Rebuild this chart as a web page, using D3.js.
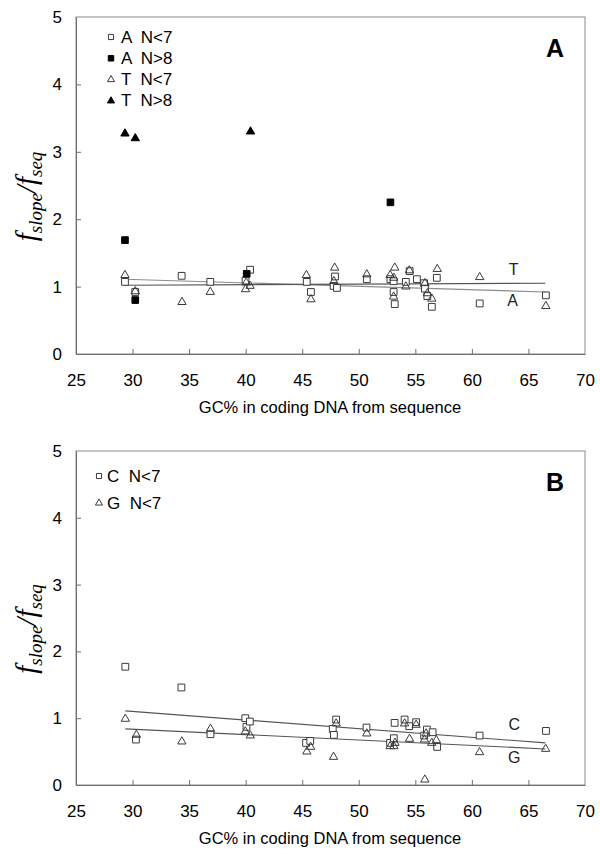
<!DOCTYPE html>
<html><head><meta charset="utf-8">
<script src="https://cdn.jsdelivr.net/npm/d3@7"></script>
<style>body{margin:0;background:#fff}svg{display:block}</style>
</head><body>
<svg id="chart" width="600" height="857"></svg>
<script>
// ---------- data ----------
const xTicks = [25, 30, 35, 40, 45, 50, 55, 60, 65, 70];
const yTicks = [0, 1, 2, 3, 4, 5];
const xTitle = "GC% in coding DNA from sequence";

// Panel A
const aLow = [[29.33,1.07],[30.24,0.92],[34.34,1.16],[36.87,1.07],[39.99,1.09],[40.39,1.25],[45.4,1.07],[45.77,0.92],[47.77,1.01],[47.9,1.15],[48.07,0.98],[50.71,1.11],[52.8,1.11],[53.08,0.92],[53.18,0.74],[53.08,1.08],[54.16,1.07],[54.5,1.23],[55.14,1.11],[55.78,1.05],[55.85,0.97],[56.06,0.86],[56.46,0.70],[56.9,1.13],[60.69,0.75],[66.54,0.87]];
const aHigh = [[29.33,1.69],[30.24,0.80],[40.09,1.19],[52.8,2.25]];
const tLow = [[29.33,1.17],[30.24,0.93],[34.37,0.77],[36.87,0.92],[39.99,0.96],[40.05,1.06],[40.39,1.01],[45.37,1.17],[45.77,0.81],[47.87,1.28],[47.8,1.08],[50.71,1.18],[52.77,1.17],[53.18,1.28],[53.1,1.13],[53.08,0.85],[54.16,1.0],[54.47,1.24],[55.85,1.05],[56.06,0.90],[56.46,0.82],[56.94,1.26],[60.69,1.14],[66.54,0.71]];
const tHigh = [[29.33,3.27],[30.24,3.20],[40.43,3.30]];
const trendA = [[29.3,1.11],[66.5,0.92]];
const trendT = [[29.3,1.02],[66.5,1.05]];

// Panel B
const cLow = [[29.36,1.77],[30.3,0.68],[34.32,1.46],[36.89,0.76],[39.97,1.00],[40.07,0.87],[40.37,0.95],[45.34,0.63],[45.71,0.66],[47.7,0.84],[48.0,0.98],[47.8,0.75],[50.68,0.86],[52.77,0.63],[53.1,0.70],[53.17,0.93],[54.05,0.98],[54.46,0.88],[55.07,0.94],[55.78,0.74],[56.02,0.83],[56.53,0.79],[56.93,0.57],[60.68,0.74],[66.55,0.81]];
const gLow = [[29.36,0.99],[30.34,0.75],[34.36,0.65],[36.89,0.84],[39.97,0.80],[40.41,0.74],[45.41,0.50],[45.74,0.57],[47.77,0.42],[48.0,0.92],[50.71,0.77],[52.77,0.58],[53.1,0.58],[53.2,0.63],[54.05,0.92],[54.49,0.69],[55.07,0.90],[55.81,0.68],[55.95,0.77],[55.84,0.08],[56.45,0.63],[56.86,0.67],[60.68,0.49],[66.52,0.54]];
const trendC = [[29.36,1.11],[66.5,0.63]];
const trendG = [[29.36,0.84],[66.5,0.54]];

const legendA = ["A  N<7", "A  N>8", "T  N<7", "T  N>8"];
const legendB = ["C  N<7", "G  N<7"];

// ---------- drawing ----------
const svg = d3.select("#chart");
const SANS = "'Liberation Sans', Arial, sans-serif";
const SERIF = "'Liberation Serif', 'Times New Roman', serif";

const sym = {
  sqOpen: {type: d3.symbolSquare, size: 46, fill: "#fff", stroke: "#3a3a3a"},
  sqFill: {type: d3.symbolSquare, size: 44, fill: "#000", stroke: "#000"},
  trOpen: {type: d3.symbolTriangle, size: 30, fill: "none", stroke: "#3a3a3a"},
  trFill: {type: d3.symbolTriangle, size: 30, fill: "#000", stroke: "#000"}
};
const legSym = {
  sqOpen: {type: d3.symbolSquare, size: 26, fill: "#fff", stroke: "#3a3a3a"},
  sqFill: {type: d3.symbolSquare, size: 30, fill: "#000", stroke: "#000"},
  trOpen: {type: d3.symbolTriangle, size: 22, fill: "none", stroke: "#3a3a3a"},
  trFill: {type: d3.symbolTriangle, size: 22, fill: "#000", stroke: "#000"}
};

function drawPanel(p) {
  const x = d3.scaleLinear().domain([25, 70]).range([p.left, p.right]);
  const y = d3.scaleLinear().domain([0, 5]).range([p.bottom, p.top]);
  const g = svg.append("g");

  // frame
  g.append("rect").attr("x", p.left).attr("y", p.top)
    .attr("width", p.right - p.left).attr("height", p.bottom - p.top)
    .attr("fill", "none").attr("stroke", "#8a8a8a").attr("stroke-width", 1);

  // axes
  const fmt = d3.format("d");
  const xa = g.append("g").attr("transform", `translate(0,${p.bottom})`)
    .call(d3.axisBottom(x).tickValues(xTicks).tickFormat(fmt).tickSizeInner(-5).tickSizeOuter(0).tickPadding(14));
  const ya = g.append("g").attr("transform", `translate(${p.left},0)`)
    .call(d3.axisLeft(y).tickValues(yTicks).tickFormat(fmt).tickSizeInner(-5).tickSizeOuter(0).tickPadding(14));
  [xa, ya].forEach(a => {
    a.select(".domain").attr("stroke", "#6e6e6e");
    a.selectAll(".tick line").attr("stroke", "#6e6e6e");
    a.selectAll("text").attr("font-family", SANS).attr("font-size", 17).attr("fill", "#000");
  });
  xa.selectAll(".tick").filter(d => d === 25 || d === 70).select("line").remove();
  ya.selectAll(".tick").filter(d => d === 0 || d === 5).select("line").remove();
  xa.selectAll("text").attr("dy", "0.71em").attr("y", 20);

  // trend lines
  const line = d3.line().x(d => x(d[0])).y(d => y(d[1]));
  p.trends.forEach(t => {
    g.append("path").datum(t.data).attr("d", line)
      .attr("fill", "none").attr("stroke", t.color).attr("stroke-width", 1.1);
    g.append("text").attr("x", x(t.label[0])).attr("y", y(t.label[1]))
      .attr("text-anchor", "middle").attr("dominant-baseline", "middle")
      .attr("font-family", SANS).attr("font-size", 16).attr("fill", "#222").text(t.text);
  });

  // points
  p.series.forEach(s => {
    const st = sym[s.sym];
    g.append("g").selectAll("path").data(s.data).join("path")
      .attr("transform", d => `translate(${x(d[0])},${y(d[1])})`)
      .attr("d", d3.symbol().type(st.type).size(st.size))
      .attr("fill", st.fill).attr("stroke", st.stroke).attr("stroke-width", 1);
  });

  // legend
  p.legend.forEach((lab, i) => {
    const st = legSym[p.series[i].sym];
    const yy = p.legY + i * p.legStep;
    g.append("path").attr("transform", `translate(${p.legX},${yy})`)
      .attr("d", d3.symbol().type(st.type).size(st.size))
      .attr("fill", st.fill).attr("stroke", st.stroke).attr("stroke-width", 1);
    g.append("text").attr("x", p.legX + p.legGap).attr("y", yy)
      .attr("dominant-baseline", "central")
      .attr("font-family", SANS).attr("font-size", 17).attr("fill", "#000")
      .attr("xml:space", "preserve").style("white-space", "pre").text(lab);
  });

  // panel letter
  g.append("text").attr("x", p.right - 30).attr("y", p.top + 40)
    .attr("text-anchor", "middle").attr("font-family", SANS)
    .attr("font-size", 25).attr("font-weight", "bold").text(p.letter);

  // x title
  g.append("text").attr("x", 330).attr("y", p.bottom + 59)
    .attr("text-anchor", "middle").attr("font-family", SANS)
    .attr("font-size", 16.5).attr("fill", "#000").text(xTitle);

  // y title
  const yc = (p.top + p.bottom) / 2 + 11;
  const yt = g.append("text").attr("transform", `translate(36,${yc}) rotate(-90)`)
    .attr("text-anchor", "middle").attr("font-family", SERIF)
    .attr("font-style", "italic").attr("fill", "#000");
  yt.append("tspan").attr("font-size", 29).text("f");
  yt.append("tspan").attr("font-size", 19).attr("dy", 6).text("slope");
  yt.append("tspan").attr("font-size", 29).attr("dy", -6).text("/");
  yt.append("tspan").attr("font-size", 29).text("f");
  yt.append("tspan").attr("font-size", 19).attr("dy", 6).text("seq");
}

drawPanel({
  left: 76, right: 585, top: 17, bottom: 354, letter: "A",
  series: [
    {data: aLow, sym: "sqOpen"}, {data: aHigh, sym: "sqFill"},
    {data: tLow, sym: "trOpen"}, {data: tHigh, sym: "trFill"}
  ],
  trends: [
    {data: trendA, color: "#8c8c8c", text: "A", label: [63.6, 0.77]},
    {data: trendT, color: "#555", text: "T", label: [63.7, 1.24]}
  ],
  legend: legendA, legX: 111, legY: 37, legStep: 21.3, legGap: 10
});

drawPanel({
  left: 76, right: 585, top: 451, bottom: 785, letter: "B",
  series: [{data: cLow, sym: "sqOpen"}, {data: gLow, sym: "trOpen"}],
  trends: [
    {data: trendC, color: "#555", text: "C", label: [63.75, 0.89]},
    {data: trendG, color: "#555", text: "G", label: [63.75, 0.39]}
  ],
  legend: legendB, legX: 99, legY: 476, legStep: 27, legGap: 8
});
</script>
</body></html>
